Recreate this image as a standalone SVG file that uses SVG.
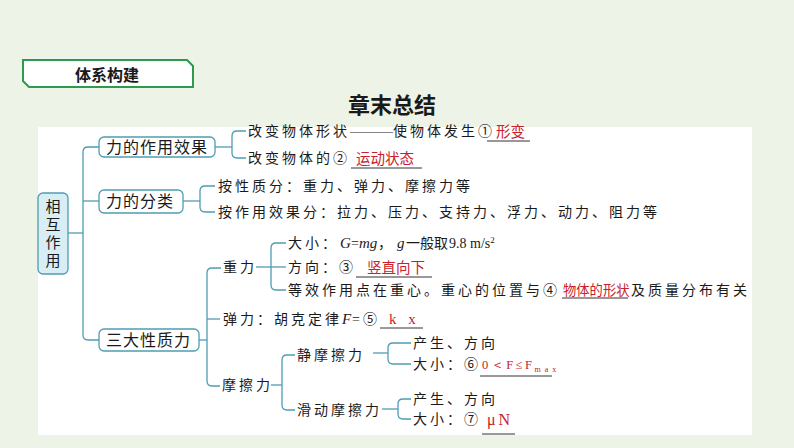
<svg xmlns="http://www.w3.org/2000/svg" width="794" height="448" viewBox="0 0 794 448">
<defs>
<style>
.bg{fill:#edf3e6}
.panel{fill:#ffffff}
.box{fill:#ffffff;stroke:#4f9db3;stroke-width:1.3}
.boxb{fill:#d9edf4;stroke:#4f9db3;stroke-width:1.3}
.ln{fill:none;stroke:#4f9db3;stroke-width:1.3}
.ul{stroke:#333333;stroke-width:1}
.nt{font-family:"Noto Sans CJK SC",sans-serif;font-size:16px;fill:#1a1a1a;letter-spacing:1px}
.vt{font-family:"Noto Sans CJK SC",sans-serif;font-size:15px;fill:#1a1a1a;writing-mode:vertical-rl;letter-spacing:3px}
.t{font-family:"Noto Sans CJK SC",sans-serif;font-size:14px;fill:#1a1a1a;letter-spacing:3px}
.t0{font-family:"Noto Sans CJK SC",sans-serif;font-size:14px;fill:#1a1a1a}
.r{font-family:"Noto Sans CJK SC",sans-serif;font-size:14.5px;fill:#c8202c}
.rs{font-family:"Liberation Serif",serif;fill:#c8202c}
.it{font-family:"Liberation Serif",serif;font-style:italic;font-size:15px;fill:#1a1a1a}
.sr{font-family:"Liberation Serif",serif;font-size:14px;fill:#1a1a1a}
</style>
</defs>
<rect class="bg" x="0" y="0" width="794" height="448"/>
<rect class="panel" x="38" y="127" width="714" height="308"/>

<g id="header">
<path d="M23 60 H187 L193 66 V87 H29 L23 81 Z" fill="#ffffff" stroke="#2e9a4e" stroke-width="2"/>
<text x="107" y="81" text-anchor="middle" font-family="Noto Sans CJK SC,sans-serif" font-size="16" font-weight="bold" fill="#1a1a1a">体系构建</text>
</g>
<g id="title">
<text x="392" y="113" text-anchor="middle" font-family="Noto Sans CJK SC,sans-serif" font-size="22" font-weight="bold" fill="#1a1a1a">章末总结</text>
</g>

<g id="connectors">
<path class="ln" d="M68 233 H83"/>
<path class="ln" d="M99 147 H88 Q83 147 83 152 V335 Q83 340 88 340 H99"/>
<path class="ln" d="M83 201 H99"/>
<path class="ln" d="M215 147 H232"/>
<path class="ln" d="M246 131 H237 Q232 131 232 136 V153 Q232 158 237 158 H246"/>
<path class="ln" d="M183 201 H200"/>
<path class="ln" d="M215 186 H205 Q200 186 200 191 V207 Q200 212 205 212 H215"/>
<path class="ln" d="M199 340 H207"/>
<path class="ln" d="M221 268 H212 Q207 268 207 273 V381 Q207 386 212 386 H220"/>
<path class="ln" d="M207 319 H220"/>
<path class="ln" d="M256 267 H271"/>
<path class="ln" d="M286 243 H276 Q271 243 271 248 V285 Q271 290 276 290 H286"/>
<path class="ln" d="M271 267 H286"/>
<path class="ln" d="M271 385 H282"/>
<path class="ln" d="M295 355 H287 Q282 355 282 360 V405 Q282 410 287 410 H295"/>
<path class="ln" d="M373 353 H388"/>
<path class="ln" d="M411 343 H393 Q388 343 388 348 V359 Q388 364 393 364 H411"/>
<path class="ln" d="M382 409 H398"/>
<path class="ln" d="M411 399 H403 Q398 399 398 404 V414 Q398 419 403 419 H411"/>
</g>

<g id="node-interaction">
<rect class="boxb" x="38" y="193" width="30" height="81" rx="5"/>
<text class="vt" x="53" y="199">相互作用</text>
</g>

<g id="node-effect">
<rect class="box" x="99" y="137" width="116" height="20" rx="5"/>
<text class="nt" x="106" y="153">力的作用效果</text>
</g>
<g id="node-effect-items">
<text class="t" x="248" y="136">改变物体形状</text>
<text class="sr" x="350" y="136" textLength="43" lengthAdjust="spacingAndGlyphs">——</text>
<text class="t" x="393" y="136">使物体发生①</text>
<text class="r" x="496" y="137">形变</text>
<line class="ul" x1="487" y1="141" x2="530" y2="141"/>
<text class="t" x="248" y="163">改变物体的②</text>
<text class="r" x="356" y="164">运动状态</text>
<line class="ul" x1="351" y1="168" x2="422" y2="168"/>
</g>

<g id="node-class">
<rect class="box" x="99" y="190" width="84" height="23" rx="5"/>
<text class="nt" x="106" y="207">力的分类</text>
</g>
<g id="node-class-items">
<text class="t" x="218" y="191">按性质分：重力、弹力、摩擦力等</text>
<text class="t" x="218" y="217">按作用效果分：拉力、压力、支持力、浮力、动力、阻力等</text>
</g>

<g id="node-three">
<rect class="box" x="99" y="329" width="100" height="22" rx="5"/>
<text class="nt" x="106" y="346">三大性质力</text>
</g>

<g id="node-gravity">
<text class="t" x="223" y="272">重力</text>
<text class="t" x="288" y="248">大小：</text>
<text class="it" x="340" y="248">G</text><text class="sr" x="351" y="248">=</text><text class="it" x="359" y="248">mg</text>
<text class="t" x="378" y="248">，</text>
<text class="it" x="397" y="248">g</text>
<text class="t0" x="406" y="248">一般取</text>
<text class="sr" x="449" y="248">9.8 m/s<tspan font-size="9" dy="-5">2</tspan></text>
<text class="t" x="288" y="272">方向：③</text>
<text class="r" x="367" y="273">竖直向下</text>
<line class="ul" x1="356" y1="277" x2="432" y2="277"/>
<text class="t" x="288" y="295">等效作用点在重心。重心的位置与④</text>
<text class="r" x="563" y="295" style="font-size:13.3px">物体的形状</text>
<line class="ul" x1="562" y1="298" x2="628" y2="298"/>
<text class="t" x="631" y="295">及质量分布有关</text>
</g>

<g id="node-elastic">
<text class="t" x="223" y="324">弹力：胡克定律</text>
<text class="it" x="342" y="324">F</text><text class="sr" x="352" y="324">=</text>
<text class="t" x="363" y="324">⑤</text>
<text class="rs" x="389" y="324" font-size="15" letter-spacing="4">k x</text>
<line class="ul" x1="380" y1="328" x2="423" y2="328"/>
</g>

<g id="node-friction">
<text class="t" x="222" y="390">摩擦力</text>
</g>
<g id="node-static">
<text class="t" x="297" y="360">静摩擦力</text>
<text class="t" x="413" y="348">产生、方向</text>
<text class="t" x="413" y="369">大小：⑥</text>
<text class="rs" x="482" y="369" font-size="12.5" letter-spacing="2.5">0＜F≤F<tspan font-size="8" dy="3" letter-spacing="4">max</tspan></text>
<line class="ul" x1="480" y1="376" x2="552" y2="376"/>
</g>
<g id="node-sliding">
<text class="t" x="297" y="415">滑动摩擦力</text>
<text class="t" x="413" y="404">产生、方向</text>
<text class="t" x="413" y="424">大小：⑦</text>
<text class="rs" x="487" y="425" font-size="16" letter-spacing="3">μN</text>
<line class="ul" x1="482" y1="434" x2="515" y2="434"/>
</g>
</svg>
